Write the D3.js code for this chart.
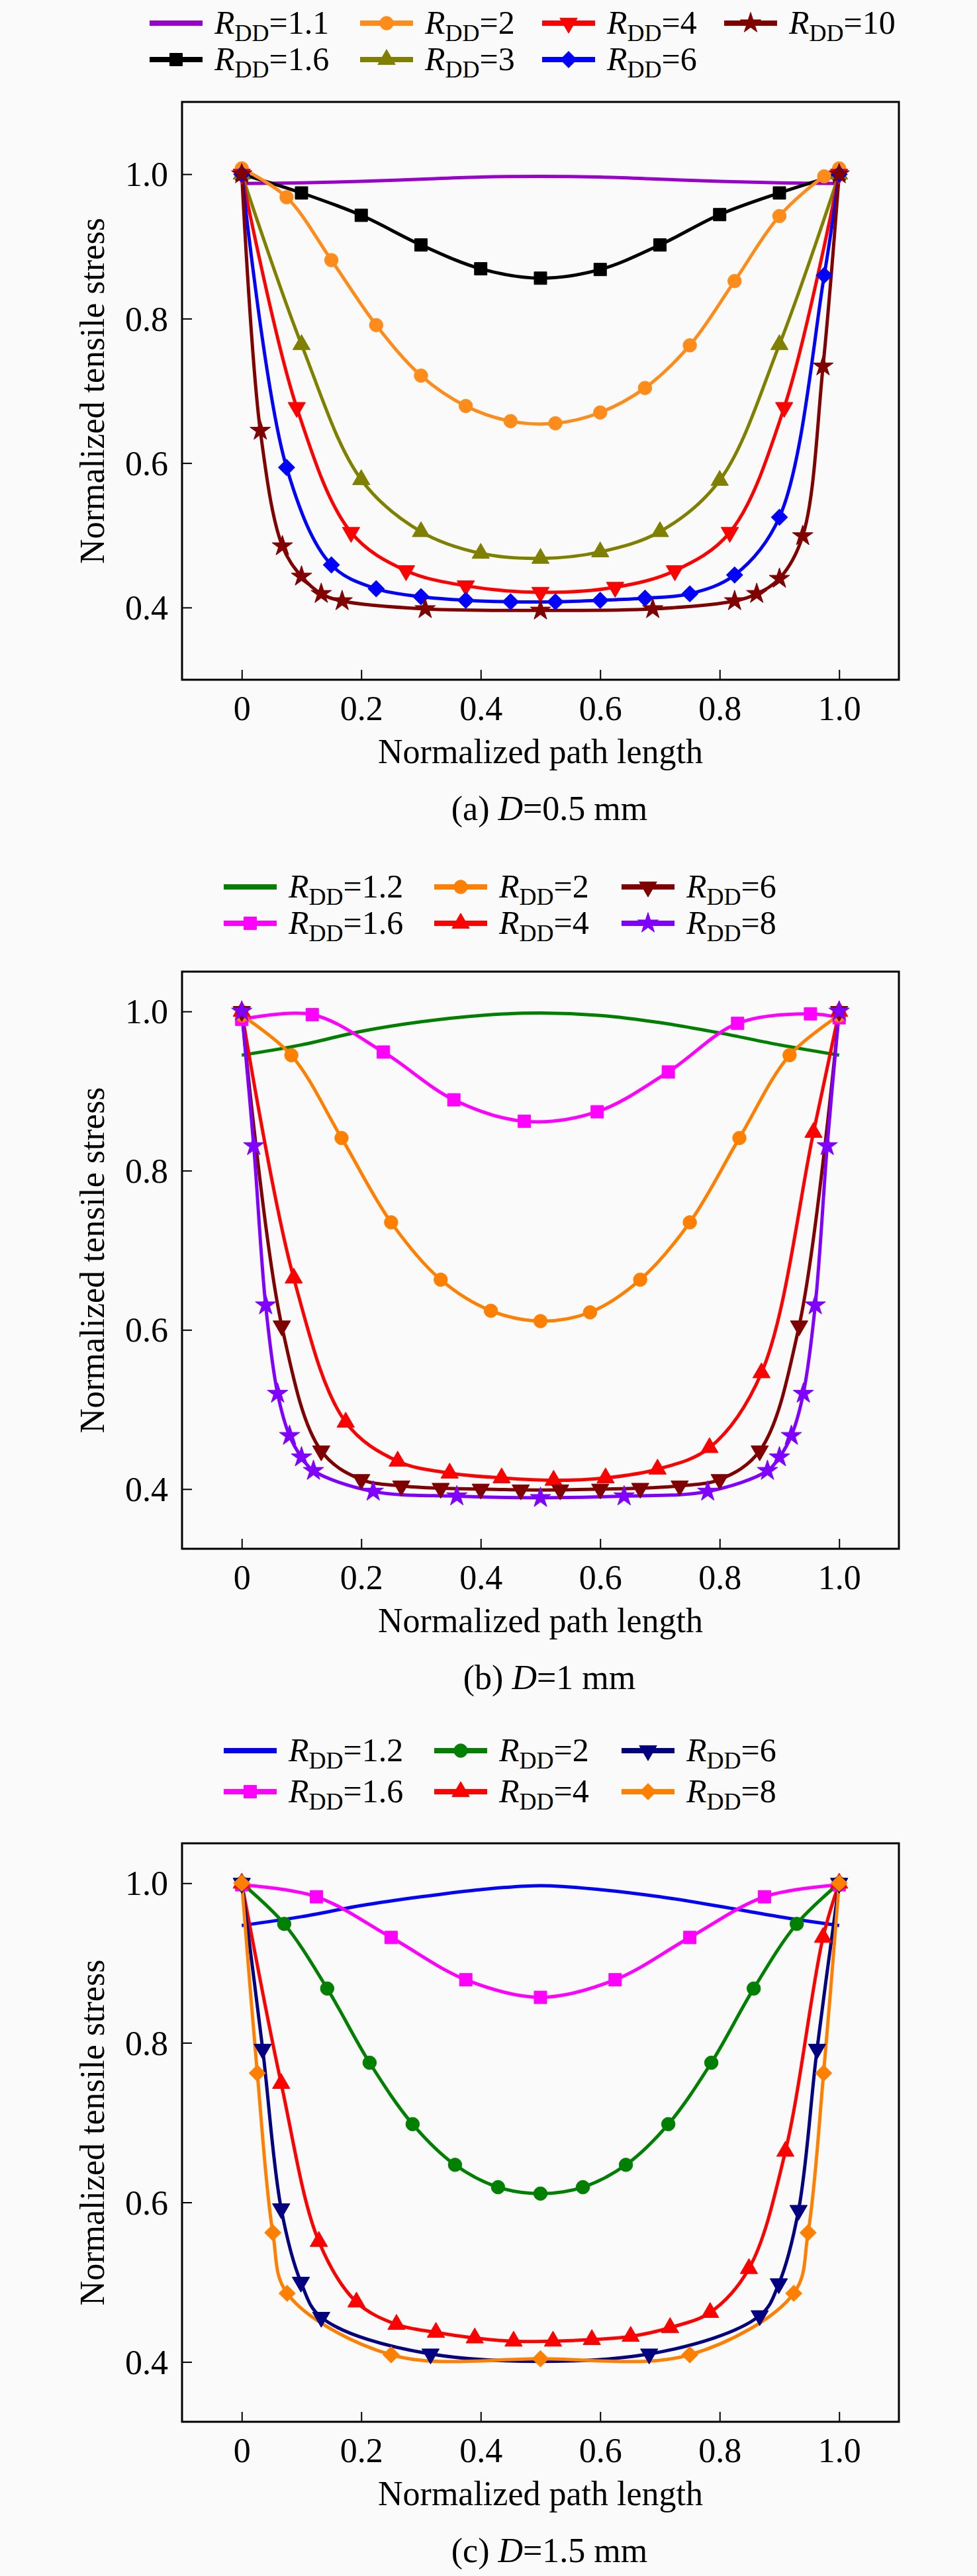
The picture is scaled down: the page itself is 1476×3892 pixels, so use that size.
<!DOCTYPE html>
<html>
<head>
<meta charset="utf-8">
<script src="https://cdn.jsdelivr.net/npm/d3@7"></script>
<style>
  body { margin: 0; background: #fafafa; }
  svg { display: block; }
  text { font-family: "Liberation Serif", "Times New Roman", serif; fill: #000; }
</style>
</head>
<body>
<svg id="chart" width="1476" height="3892"></svg>
<script>
// ---- data ----
// (a) D = 0.5 mm
const aR11x = [0, 0.1, 0.2, 0.3, 0.4, 0.5, 0.6, 0.7, 0.8, 0.9, 1.0];
const aR11y = [0.987, 0.988, 0.990, 0.993, 0.996, 0.997, 0.996, 0.993, 0.990, 0.988, 0.987];
const aR16x = [0, 0.1, 0.2, 0.3, 0.4, 0.5, 0.6, 0.7, 0.8, 0.9, 1.0];
const aR16y = [1.0, 0.974, 0.943, 0.902, 0.869, 0.856, 0.868, 0.902, 0.944, 0.974, 1.0];
const aR2x = [0, 0.075, 0.15, 0.225, 0.3, 0.375, 0.45, 0.525, 0.6, 0.675, 0.75, 0.825, 0.9, 0.975, 1.0];
const aR2y = [1.008, 0.968, 0.881, 0.791, 0.721, 0.679, 0.658, 0.655, 0.670, 0.704, 0.763, 0.852, 0.942, 0.997, 1.008];
const aR3x = [0, 0.1, 0.2, 0.3, 0.4, 0.5, 0.6, 0.7, 0.8, 0.9, 1.0];
const aR3y = [1.0, 0.764, 0.577, 0.505, 0.475, 0.468, 0.477, 0.505, 0.576, 0.764, 1.0];
const aR4x = [0, 0.092, 0.183, 0.275, 0.375, 0.5, 0.625, 0.725, 0.817, 0.908, 1.0];
const aR4y = [1.0, 0.677, 0.504, 0.451, 0.430, 0.421, 0.428, 0.451, 0.504, 0.677, 1.0];
const aR6x = [0, 0.075, 0.15, 0.225, 0.3, 0.375, 0.45, 0.525, 0.6, 0.675, 0.75, 0.825, 0.9, 0.975, 1.0];
const aR6y = [1.0, 0.594, 0.459, 0.426, 0.415, 0.410, 0.408, 0.408, 0.410, 0.413, 0.419, 0.445, 0.525, 0.860, 1.0];
const aR10x = [0, 0.031, 0.068, 0.1, 0.133, 0.168, 0.307, 0.5, 0.688, 0.825, 0.862, 0.9, 0.939, 0.973, 1.0];
const aR10y = [1.0, 0.645, 0.485, 0.443, 0.419, 0.409, 0.398, 0.396, 0.398, 0.409, 0.419, 0.440, 0.499, 0.734, 1.0];

// (b) D = 1 mm
const bR12x = [0, 0.1, 0.2, 0.3, 0.4, 0.5, 0.6, 0.7, 0.8, 0.9, 1.0];
const bR12y = [0.945, 0.958, 0.975, 0.987, 0.995, 0.998, 0.995, 0.986, 0.973, 0.958, 0.945];
const bR16x = [0, 0.118, 0.237, 0.355, 0.473, 0.595, 0.714, 0.83, 0.952, 1.0];
const bR16y = [0.990, 0.996, 0.949, 0.889, 0.862, 0.874, 0.924, 0.985, 0.997, 0.992];
const bR2x = [0, 0.083, 0.167, 0.25, 0.333, 0.417, 0.5, 0.583, 0.667, 0.75, 0.833, 0.917, 1.0];
const bR2y = [0.995, 0.945, 0.841, 0.735, 0.663, 0.624, 0.611, 0.622, 0.663, 0.735, 0.841, 0.945, 0.995];
const bR4x = [0, 0.087, 0.174, 0.261, 0.348, 0.435, 0.522, 0.609, 0.696, 0.783, 0.87, 0.957, 1.0];
const bR4y = [1.0, 0.665, 0.484, 0.435, 0.420, 0.414, 0.411, 0.414, 0.425, 0.452, 0.546, 0.848, 1.0];
const bR6x = [0, 0.067, 0.133, 0.2, 0.267, 0.333, 0.4, 0.467, 0.533, 0.6, 0.667, 0.733, 0.8, 0.867, 0.933, 1.0];
const bR6y = [1.0, 0.605, 0.448, 0.412, 0.404, 0.401, 0.400, 0.399, 0.399, 0.400, 0.401, 0.404, 0.412, 0.448, 0.605, 1.0];
const bR8x = [0, 0.02, 0.04, 0.06, 0.08, 0.1, 0.12, 0.22, 0.36, 0.5, 0.64, 0.78, 0.88, 0.9, 0.92, 0.94, 0.96, 0.98, 1.0];
const bR8y = [1.0, 0.831, 0.631, 0.520, 0.467, 0.440, 0.423, 0.397, 0.391, 0.389, 0.391, 0.397, 0.423, 0.440, 0.467, 0.520, 0.631, 0.831, 1.0];

// (c) D = 1.5 mm
const cR12x = [0, 0.1, 0.2, 0.3, 0.4, 0.5, 0.6, 0.7, 0.8, 0.9, 1.0];
const cR12y = [0.947, 0.958, 0.972, 0.983, 0.992, 0.997, 0.992, 0.983, 0.971, 0.958, 0.947];
const cR16x = [0, 0.125, 0.25, 0.375, 0.5, 0.625, 0.75, 0.875, 1.0];
const cR16y = [0.998, 0.983, 0.932, 0.879, 0.857, 0.879, 0.932, 0.983, 0.998];
const cR2x = [0, 0.071, 0.143, 0.214, 0.286, 0.357, 0.429, 0.5, 0.571, 0.643, 0.714, 0.786, 0.857, 0.929, 1.0];
const cR2y = [1.0, 0.949, 0.868, 0.775, 0.698, 0.647, 0.619, 0.611, 0.619, 0.647, 0.698, 0.775, 0.868, 0.949, 1.0];
const cR4x = [0, 0.066, 0.129, 0.192, 0.259, 0.325, 0.39, 0.455, 0.521, 0.586, 0.651, 0.717, 0.784, 0.849, 0.91, 0.973, 1.0];
const cR4y = [1.0, 0.749, 0.551, 0.475, 0.447, 0.437, 0.430, 0.426, 0.426, 0.428, 0.432, 0.443, 0.462, 0.517, 0.664, 0.932, 1.0];
const cR6x = [0, 0.035, 0.066, 0.099, 0.133, 0.316, 0.682, 0.867, 0.899, 0.932, 0.963, 1.0];
const cR6y = [1.0, 0.792, 0.592, 0.500, 0.456, 0.410, 0.410, 0.458, 0.498, 0.590, 0.792, 1.0];
const cR8x = [0, 0.026, 0.052, 0.076, 0.25, 0.5, 0.75, 0.924, 0.948, 0.974, 1.0];
const cR8y = [1.0, 0.762, 0.562, 0.486, 0.409, 0.404, 0.409, 0.486, 0.562, 0.762, 1.0];

const xTicks = [0, 0.2, 0.4, 0.6, 0.8, 1.0];
const xTickLabels = ["0", "0.2", "0.4", "0.6", "0.8", "1.0"];
const yTicks = [0.4, 0.6, 0.8, 1.0];
const yTickLabels = ["0.4", "0.6", "0.8", "1.0"];
const xTitle = "Normalized path length";
const yTitle = "Normalized tensile stress";

// ---- layout / styles ----
const svg = d3.select("#chart");
const left = 275, right = 1358;

const zip = (xs, ys) => xs.map((x, i) => [x, ys[i]]);

const panels = [
  {
    top: 154, bottom: 1027, yDomain: [0.3, 1.1], caption: ["(a) ", "D", "=0.5 mm"],
    legendRows: [35, 90], legendCols: [226, 544, 819, 1094],
    series: [
      { label: "1.1", x: aR11x, y: aR11y, color: "#9900cc", marker: null, row: 0, col: 0 },
      { label: "1.6", x: aR16x, y: aR16y, color: "#000000", marker: "square", row: 1, col: 0 },
      { label: "2", x: aR2x, y: aR2y, color: "#ff8c1a", marker: "circle", row: 0, col: 1 },
      { label: "3", x: aR3x, y: aR3y, color: "#808000", marker: "up", row: 1, col: 1 },
      { label: "4", x: aR4x, y: aR4y, color: "#ff0000", marker: "down", row: 0, col: 2 },
      { label: "6", x: aR6x, y: aR6y, color: "#0000ff", marker: "diamond", row: 1, col: 2 },
      { label: "10", x: aR10x, y: aR10y, color: "#800000", marker: "star", row: 0, col: 3 }
    ]
  },
  {
    top: 1468, bottom: 2340, yDomain: [0.325, 1.05], caption: ["(b) ", "D", "=1 mm"],
    legendRows: [1340, 1395], legendCols: [338, 656, 939],
    series: [
      { label: "1.2", x: bR12x, y: bR12y, color: "#007f00", marker: null, row: 0, col: 0 },
      { label: "1.6", x: bR16x, y: bR16y, color: "#ff00ff", marker: "square", row: 1, col: 0 },
      { label: "2", x: bR2x, y: bR2y, color: "#ff8000", marker: "circle", row: 0, col: 1 },
      { label: "4", x: bR4x, y: bR4y, color: "#ff0000", marker: "up", row: 1, col: 1 },
      { label: "6", x: bR6x, y: bR6y, color: "#800000", marker: "down", row: 0, col: 2 },
      { label: "8", x: bR8x, y: bR8y, color: "#8000ff", marker: "star", row: 1, col: 2 }
    ]
  },
  {
    top: 2785, bottom: 3659, yDomain: [0.325, 1.05], caption: ["(c) ", "D", "=1.5 mm"],
    legendRows: [2645, 2707], legendCols: [338, 656, 939],
    series: [
      { label: "1.2", x: cR12x, y: cR12y, color: "#0000ff", marker: null, row: 0, col: 0 },
      { label: "1.6", x: cR16x, y: cR16y, color: "#ff00ff", marker: "square", row: 1, col: 0 },
      { label: "2", x: cR2x, y: cR2y, color: "#008000", marker: "circle", row: 0, col: 1 },
      { label: "4", x: cR4x, y: cR4y, color: "#ff0000", marker: "up", row: 1, col: 1 },
      { label: "6", x: cR6x, y: cR6y, color: "#000080", marker: "down", row: 0, col: 2 },
      { label: "8", x: cR8x, y: cR8y, color: "#ff8000", marker: "diamond", row: 1, col: 2 }
    ]
  }
];

// marker shapes, roughly like the Origin defaults
function markerPath(kind) {
  const s = {
    square: [d3.symbolSquare, 360],
    circle: [d3.symbolCircle, 330],
    up: [d3.symbolTriangle, 300],
    down: [d3.symbolTriangle, 300],
    diamond: [d3.symbolSquare, 300],
    star: [d3.symbolStar, 300]
  }[kind];
  return d3.symbol().type(s[0]).size(s[1])();
}
function markerRotate(kind) {
  if (kind === "down") return 180;
  if (kind === "diamond") return 45;
  return 0;
}

function drawMarker(g, kind, cx, cy, color) {
  g.append("path")
    .attr("d", markerPath(kind))
    .attr("transform", `translate(${cx},${cy}) rotate(${markerRotate(kind)})`)
    .attr("fill", color)
    .attr("stroke", color)
    .attr("stroke-width", 1);
}

panels.forEach(p => {
  const x = d3.scaleLinear().domain([-0.1, 1.1]).range([left, right]);
  const y = d3.scaleLinear().domain(p.yDomain).range([p.bottom, p.top]);
  const g = svg.append("g");

  // curves
  const line = d3.line()
    .x(d => x(d[0]))
    .y(d => y(d[1]))
    .curve(d3.curveCatmullRom.alpha(0.5));

  p.series.forEach(s => {
    const pts = zip(s.x, s.y);
    g.append("path")
      .attr("d", line(pts))
      .attr("fill", "none")
      .attr("stroke", s.color)
      .attr("stroke-width", 5)
      .attr("stroke-linejoin", "round");
  });
  p.series.forEach(s => {
    if (!s.marker) return;
    zip(s.x, s.y).forEach(d => drawMarker(g, s.marker, x(d[0]), y(d[1]), s.color));
  });

  // frame
  g.append("rect")
    .attr("x", left).attr("y", p.top)
    .attr("width", right - left).attr("height", p.bottom - p.top)
    .attr("fill", "none").attr("stroke", "#000").attr("stroke-width", 3);

  // axes, ticks pointing inwards
  const xAxis = g.append("g")
    .attr("transform", `translate(0,${p.bottom})`)
    .call(d3.axisBottom(x).tickValues(xTicks).tickSizeInner(-15).tickSizeOuter(0)
      .tickFormat((d, i) => xTickLabels[i]));
  xAxis.select(".domain").remove();
  xAxis.selectAll("line").attr("stroke-width", 2);
  xAxis.selectAll("text").attr("y", 61).attr("dy", null)
    .attr("font-size", 52).attr("font-family", null).attr("fill", "#000");

  const yAxis = g.append("g")
    .attr("transform", `translate(${left},0)`)
    .call(d3.axisLeft(y).tickValues(yTicks).tickSizeInner(-15).tickSizeOuter(0)
      .tickFormat((d, i) => yTickLabels[i]));
  yAxis.select(".domain").remove();
  yAxis.selectAll("line").attr("stroke-width", 2);
  yAxis.selectAll("text").attr("x", -21).attr("dy", "0.34em")
    .attr("font-size", 52).attr("font-family", null).attr("fill", "#000");

  // titles
  g.append("text")
    .attr("x", (left + right) / 2).attr("y", p.bottom + 126)
    .attr("text-anchor", "middle").attr("font-size", 52)
    .text(xTitle);
  g.append("text")
    .attr("transform", `translate(157,${(p.top + p.bottom) / 2}) rotate(-90)`)
    .attr("text-anchor", "middle").attr("font-size", 52)
    .text(yTitle);

  const cap = g.append("text")
    .attr("x", 830).attr("y", p.bottom + 212)
    .attr("text-anchor", "middle").attr("font-size", 52);
  cap.append("tspan").text(p.caption[0]);
  cap.append("tspan").attr("font-style", "italic").text(p.caption[1]);
  cap.append("tspan").text(p.caption[2]);

  // legend
  p.series.forEach(s => {
    const lx = p.legendCols[s.col];
    const ly = p.legendRows[s.row];
    g.append("line")
      .attr("x1", lx).attr("x2", lx + 80)
      .attr("y1", ly).attr("y2", ly)
      .attr("stroke", s.color).attr("stroke-width", 8);
    if (s.marker) drawMarker(g, s.marker, lx + 40, ly, s.color);
    const t = g.append("text")
      .attr("x", lx + 98).attr("y", ly + 16)
      .attr("font-size", 50);
    t.append("tspan").attr("font-style", "italic").text("R");
    t.append("tspan").attr("font-size", 36).attr("dy", 11).text("DD");
    t.append("tspan").attr("dy", -11).text("=" + s.label);
  });
});
</script>
</body>
</html>
